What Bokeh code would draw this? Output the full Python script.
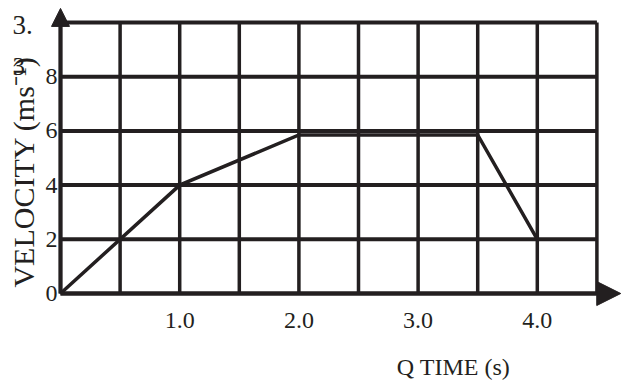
from math import pi
from bokeh.plotting import figure
from bokeh.models import Range1d, Arrow, NormalHead, Label, FixedTicker, NumeralTickFormatter
from bokeh.embed import file_html
from bokeh.resources import INLINE

# ---- data ----
time_s = [0.0, 1.0, 2.0, 3.5, 4.0]
velocity = [0.0, 4.0, 5.85, 5.85, 2.0]
x_ticks = [1.0, 2.0, 3.0, 4.0]
y_ticks = [0, 2, 4, 6, 8]
grid_x = [0.0, 0.5, 1.0, 1.5, 2.0, 2.5, 3.0, 3.5, 4.0, 4.5]
grid_y = [0, 2, 4, 6, 8, 10]

INK = "#231f20"
FONT = "Liberation Serif"

p = figure(width=626, height=382, output_backend="svg", toolbar_location=None,
           x_range=Range1d(-0.5034, 4.7483), y_range=Range1d(-3.284, 10.812),
           min_border=0)
p.outline_line_color = None
p.xgrid.visible = False
p.ygrid.visible = False
p.background_fill_color = "white"
p.border_fill_color = "white"

# grid as segments
p.segment(x0=grid_x, y0=[grid_y[0]] * len(grid_x), x1=grid_x, y1=[grid_y[-1]] * len(grid_x),
          line_color=INK, line_width=3.5)
p.segment(x0=[grid_x[0]] * len(grid_y), y0=grid_y, x1=[grid_x[-1]] * len(grid_y), y1=grid_y,
          line_color=INK, line_width=4)

# data line
p.line(time_s, velocity, line_color=INK, line_width=3.5, line_join="miter")

# axes arrows
p.add_layout(Arrow(end=NormalHead(size=18, fill_color=INK, line_color=INK),
                   x_start=0, y_start=0, x_end=0, y_end=10.52,
                   line_color=INK, line_width=4))
p.add_layout(Arrow(end=NormalHead(size=24, fill_color=INK, line_color=INK),
                   x_start=0, y_start=0, x_end=4.70, y_end=0,
                   line_color=INK, line_width=4))

# axes (labels only)
for ax in (p.xaxis, p.yaxis):
    ax.fixed_location = 0
    ax.axis_line_color = None
    ax.major_tick_line_color = None
    ax.minor_tick_line_color = None
    ax.major_tick_in = 0
    ax.major_tick_out = 0
    ax.major_label_text_font = FONT
    ax.major_label_text_font_size = "24px"
    ax.major_label_text_color = INK

p.xaxis.ticker = FixedTicker(ticks=x_ticks)
p.xaxis.formatter = NumeralTickFormatter(format="0.0")
p.xaxis.major_label_standoff = 19
p.yaxis.ticker = FixedTicker(ticks=y_ticks)
p.yaxis.major_label_standoff = 3

# texts
p.add_layout(Label(x=-0.31, y=0.22, text="VELOCITY (ms\u207b\u00b9)", angle=pi / 2,
                   text_font=FONT, text_font_size="30px", text_color=INK,
                   text_align="left", text_baseline="alphabetic"))
p.add_layout(Label(x=3.297, y=-2.72, text="Q TIME (s)",
                   text_font=FONT, text_font_size="24px", text_color=INK,
                   text_align="center", text_baseline="middle"))
p.add_layout(Label(x=-0.403, y=9.89, text="3.",
                   text_font=FONT, text_font_size="27px", text_color=INK,
                   text_align="left", text_baseline="alphabetic"))
p.add_layout(Label(x=-0.403, y=8.38, text="3",
                   text_font=FONT, text_font_size="25px", text_color=INK,
                   text_align="left", text_baseline="alphabetic"))

open("out.html", "w").write(file_html(p, INLINE))
